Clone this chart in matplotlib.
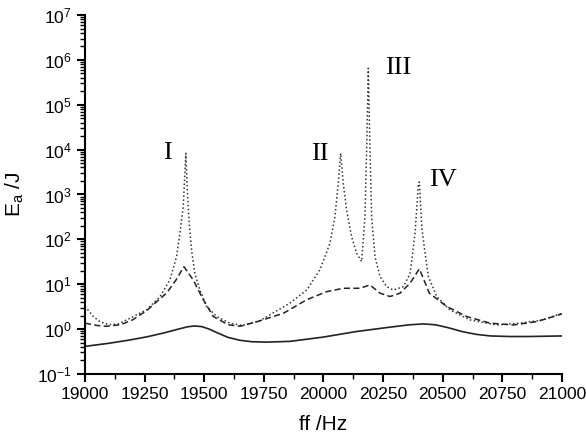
import matplotlib
matplotlib.use("Agg")
import matplotlib.pyplot as plt
import matplotlib.ticker as mticker

plt.rcParams["font.family"] = ["Liberation Sans", "DejaVu Sans"]
plt.rcParams["mathtext.fontset"] = "custom"
plt.rcParams["mathtext.rm"] = "Liberation Sans"
plt.rcParams["mathtext.it"] = "Liberation Sans:italic"
plt.rcParams["axes.unicode_minus"] = False

# ── data ──────────────────────────────────────────────────────────────────────
# dotted curve (sharp resonances I–IV)
f_dot = [19000, 19035, 19063, 19100, 19140, 19189, 19259, 19314, 19356, 19384,
         19398, 19412, 19419, 19423, 19429, 19437, 19447, 19461, 19482, 19510,
         19552, 19608, 19660, 19730, 19860, 19930, 19985, 20027, 20048, 20062,
         20072, 20083, 20097, 20118, 20139, 20160, 20174, 20181, 20188, 20195,
         20202, 20216, 20237, 20265, 20293, 20335, 20363, 20384, 20398, 20402,
         20412, 20426, 20440, 20475, 20530, 20614, 20726, 20824, 20922, 21000]
e_dot = [3.2, 1.9, 1.45, 1.25, 1.3, 1.74, 2.7, 5.2, 12.4, 41,
         136, 540, 2970, 8300, 1260, 230, 57, 17, 7.4, 3.2,
         1.9, 1.35, 1.2, 1.5, 3.8, 7.4, 21, 81, 318, 1780,
         8300, 1780, 450, 114, 49, 32, 318, 9800, 6.5e5, 9800,
         318, 41, 14.8, 8.8, 7.4, 8.8, 17, 136, 1780, 1900,
         190, 49, 14.8, 5.3, 2.67, 1.6, 1.23, 1.35, 1.6, 2.24]

# dashed curve
f_dash = [19000, 19050, 19090, 19150, 19200, 19260, 19310, 19342, 19380, 19415,
          19454, 19496, 19538, 19600, 19650, 19720, 19832, 19930, 20013, 20083,
          20153, 20195, 20237, 20279, 20321, 20363, 20402, 20444, 20516, 20600,
          20698, 20796, 20894, 21000]
e_dash = [1.35, 1.2, 1.15, 1.25, 1.6, 2.6, 4.5, 6.3, 12, 24.5,
          12.4, 4.5, 1.9, 1.25, 1.15, 1.45, 2.24, 4.5, 6.8, 8.1,
          8.1, 9.6, 6.3, 5.3, 6.3, 10.5, 22, 6.3, 3.2, 1.9,
          1.35, 1.23, 1.46, 2.17]

# solid curve
f_sol = [19000, 19100, 19189, 19260, 19328, 19390, 19430, 19460, 19490, 19520,
         19560, 19600, 19650, 19700, 19760, 19860, 19999, 20139, 20279, 20360,
         20419, 20470, 20520, 20580, 20640, 20700, 20780, 20860, 21000]
e_sol = [0.41, 0.48, 0.57, 0.67, 0.81, 0.99, 1.12, 1.17, 1.13, 1.0,
         0.8, 0.65, 0.56, 0.52, 0.51, 0.53, 0.66, 0.88, 1.1, 1.24,
         1.3, 1.24, 1.08, 0.88, 0.76, 0.70, 0.68, 0.68, 0.70]

# peak labels
peak_names = ["I", "II", "III", "IV"]
peak_f = [19344, 19985, 20312, 20501]
peak_e = [8.5e3, 8.0e3, 6.6e5, 2.1e3]

# ── plot ───────────────────────────────────────────────────────────────────────
fig = plt.figure(figsize=(5.86, 4.44), dpi=100)
ax = fig.add_axes([0.145, 0.158, 0.814, 0.808])

ax.plot(f_dot, e_dot, color="#333333", lw=1.1, linestyle=(0, (1, 1.6)))
ax.plot(f_dash, e_dash, color="#222222", lw=1.1, linestyle=(0, (4, 2.2)))
ax.plot(f_sol, e_sol, color="#222222", lw=1.2)

for name, fx, ey in zip(peak_names, peak_f, peak_e):
    ax.text(fx, ey, name, fontsize=19, family=["Liberation Serif", "DejaVu Serif"],
            ha="center", va="center")

ax.set_yscale("log")
ax.set_xlim(19000, 21000)
ax.set_ylim(1e-1, 1e7)
ax.xaxis.set_major_locator(mticker.MultipleLocator(250))
ax.xaxis.set_minor_locator(mticker.MultipleLocator(125))
ax.yaxis.set_major_locator(mticker.LogLocator(base=10, numticks=20))
ax.yaxis.set_minor_locator(mticker.LogLocator(base=10, subs=range(2, 10), numticks=100))
ax.yaxis.set_minor_formatter(mticker.NullFormatter())

ax.spines[["top", "right"]].set_visible(False)
for s in ["left", "bottom"]:
    ax.spines[s].set_linewidth(1.5)
ax.tick_params(which="major", direction="out", length=6, width=1.5, labelsize=12.5)
ax.tick_params(which="minor", direction="out", length=3.5, width=1.0)

ax.set_xlabel("ff /Hz", fontsize=15, labelpad=9)
ax.set_ylabel("E$_\\mathregular{a}$ /J", fontsize=15, labelpad=8)

fig.savefig("out.png", dpi=100)
